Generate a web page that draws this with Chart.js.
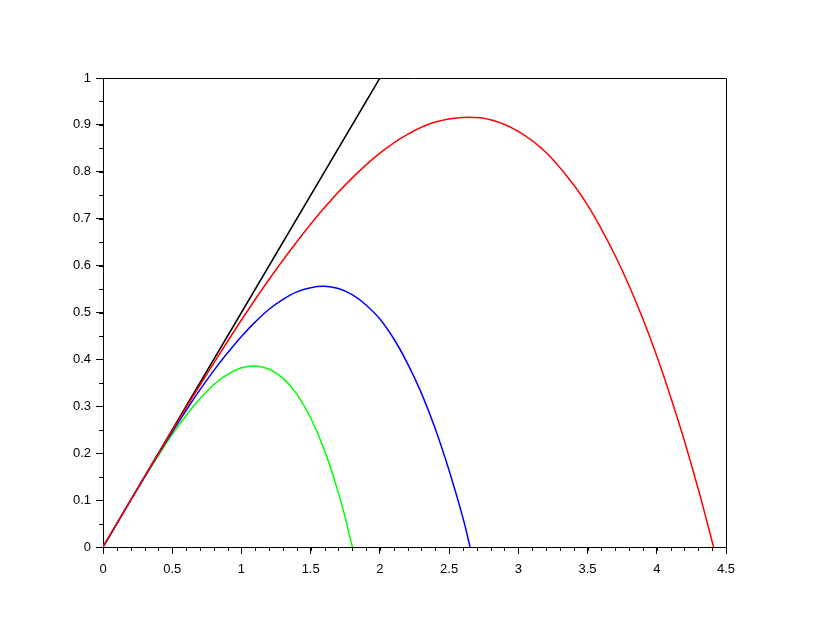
<!DOCTYPE html>
<html>
<head>
<meta charset="utf-8">
<script src="https://cdn.jsdelivr.net/npm/chart.js@4/dist/chart.umd.min.js"></script>
<style>
  html, body { margin: 0; padding: 0; background: #fff; }
  #wrap { width: 830px; height: 626px; }
</style>
</head>
<body>
<div id="wrap"><canvas id="c" width="830" height="626"></canvas></div>
<script>
// ── data ─────────────────────────────────────────────────────
const xTicks = [0, 0.5, 1, 1.5, 2, 2.5, 3, 3.5, 4, 4.5];
const xTickLabels = ['0', '0.5', '1', '1.5', '2', '2.5', '3', '3.5', '4', '4.5'];
const yTicks = [0, 0.1, 0.2, 0.3, 0.4, 0.5, 0.6, 0.7, 0.8, 0.9, 1];
const yTickLabels = ['0', '0.1', '0.2', '0.3', '0.4', '0.5', '0.6', '0.7', '0.8', '0.9', '1'];

const lineX = [0, 2];
const lineY = [0, 1];

const redX = [0, 0.2, 0.4, 0.6, 0.8, 1.0, 1.2, 1.4, 1.6, 1.8, 2.0, 2.2, 2.4, 2.6, 2.8,
  3.0, 3.2, 3.4, 3.5, 3.6, 3.7, 3.8, 3.9, 4.0, 4.1, 4.2, 4.3, 4.35, 4.41];
const redY = [0, 0.100, 0.199, 0.297, 0.392, 0.484, 0.571, 0.651, 0.724, 0.787, 0.840, 0.880, 0.906, 0.916, 0.911,
  0.886, 0.841, 0.772, 0.729, 0.678, 0.621, 0.557, 0.486, 0.407, 0.320, 0.226, 0.123, 0.068, 0];

const blueX = [0, 0.1, 0.2, 0.3, 0.4, 0.5, 0.6, 0.7, 0.8, 0.9, 1.0, 1.1, 1.2, 1.3, 1.4, 1.5, 1.6, 1.7,
  1.8, 1.9, 2.0, 2.1, 2.2, 2.3, 2.4, 2.5, 2.6, 2.651];
const blueY = [0, 0.050, 0.100, 0.149, 0.198, 0.245, 0.291, 0.335, 0.376, 0.414, 0.449, 0.480, 0.507, 0.528, 0.544, 0.553, 0.556, 0.551,
  0.538, 0.516, 0.486, 0.444, 0.391, 0.328, 0.252, 0.163, 0.062, 0];

const greenX = [0, 0.1, 0.2, 0.3, 0.4, 0.5, 0.6, 0.7, 0.8, 0.9, 1.0, 1.1, 1.2, 1.3,
  1.4, 1.5, 1.6, 1.7, 1.75, 1.801];
const greenY = [0, 0.050, 0.100, 0.148, 0.195, 0.240, 0.280, 0.316, 0.346, 0.368, 0.382, 0.386, 0.379, 0.360,
  0.326, 0.275, 0.206, 0.116, 0.062, 0];

const X_MINOR = 0.1;
const Y_MINOR = 0.05;

// ── helpers ──────────────────────────────────────────────────
const pts = (xs, ys) => xs.map((x, i) => ({ x, y: ys[i] }));

function curve(xs, ys, color) {
  return {
    data: pts(xs, ys),
    borderColor: color,
    backgroundColor: color,
    borderWidth: 1.5,
    pointRadius: 0,
    tension: 0.4,
    fill: false,
  };
}

const FONT = { family: "'Liberation Sans', Arial, sans-serif", size: 13 };

// minor ticks + top/right frame
const framePlugin = {
  id: 'frame',
  afterDraw(chart) {
    const { ctx, chartArea: a, scales } = chart;
    ctx.save();
    ctx.strokeStyle = '#000';
    ctx.lineWidth = 1;
    ctx.beginPath();
    ctx.moveTo(a.left, a.top + 0.5);
    ctx.lineTo(a.right + 0.5, a.top + 0.5);
    ctx.lineTo(a.right + 0.5, a.bottom);
    ctx.stroke();

    ctx.beginPath();
    const xs = scales.x;
    for (let v = 0; v <= xs.max + 1e-9; v += X_MINOR) {
      const px = Math.round(xs.getPixelForValue(v)) + 0.5;
      ctx.moveTo(px, a.bottom);
      ctx.lineTo(px, a.bottom + 4);
    }
    const ys = scales.y;
    for (let v = 0; v <= ys.max + 1e-9; v += Y_MINOR) {
      const py = Math.round(ys.getPixelForValue(v)) + 0.5;
      ctx.moveTo(a.left, py);
      ctx.lineTo(a.left - 4, py);
    }
    ctx.stroke();
    ctx.restore();
  },
};

new Chart(document.getElementById('c'), {
  type: 'line',
  data: {
    datasets: [
      curve(redX, redY, '#ff0000'),
      curve(blueX, blueY, '#0000ff'),
      curve(greenX, greenY, '#00ff00'),
      curve(lineX, lineY, '#000000'),
    ],
  },
  options: {
    responsive: false,
    animation: false,
    layout: { padding: { left: 0, top: 78, right: 104, bottom: 34 } },
    plugins: { legend: { display: false }, tooltip: { enabled: false } },
    scales: {
      x: {
        type: 'linear',
        min: 0,
        max: 4.5,
        afterBuildTicks: (s) => { s.ticks = xTicks.map((v) => ({ value: v })); },
        afterFit: (s) => { s.height = 45; },
        ticks: {
          color: '#000',
          font: FONT,
          padding: 8,
          maxRotation: 0,
          autoSkip: false,
          callback: (v, i) => xTickLabels[i],
        },
        grid: { drawOnChartArea: false, tickLength: 7, color: '#000' },
        border: { color: '#000', width: 1 },
      },
      y: {
        type: 'linear',
        min: 0,
        max: 1,
        afterBuildTicks: (s) => { s.ticks = yTicks.map((v) => ({ value: v })); },
        afterFit: (s) => { s.width = 103; },
        ticks: {
          color: '#000',
          font: FONT,
          padding: 5,
          autoSkip: false,
          callback: (v, i) => yTickLabels[i],
        },
        grid: { drawOnChartArea: false, tickLength: 7, color: '#000' },
        border: { color: '#000', width: 1 },
      },
    },
  },
  plugins: [framePlugin],
});
</script>
</body>
</html>
